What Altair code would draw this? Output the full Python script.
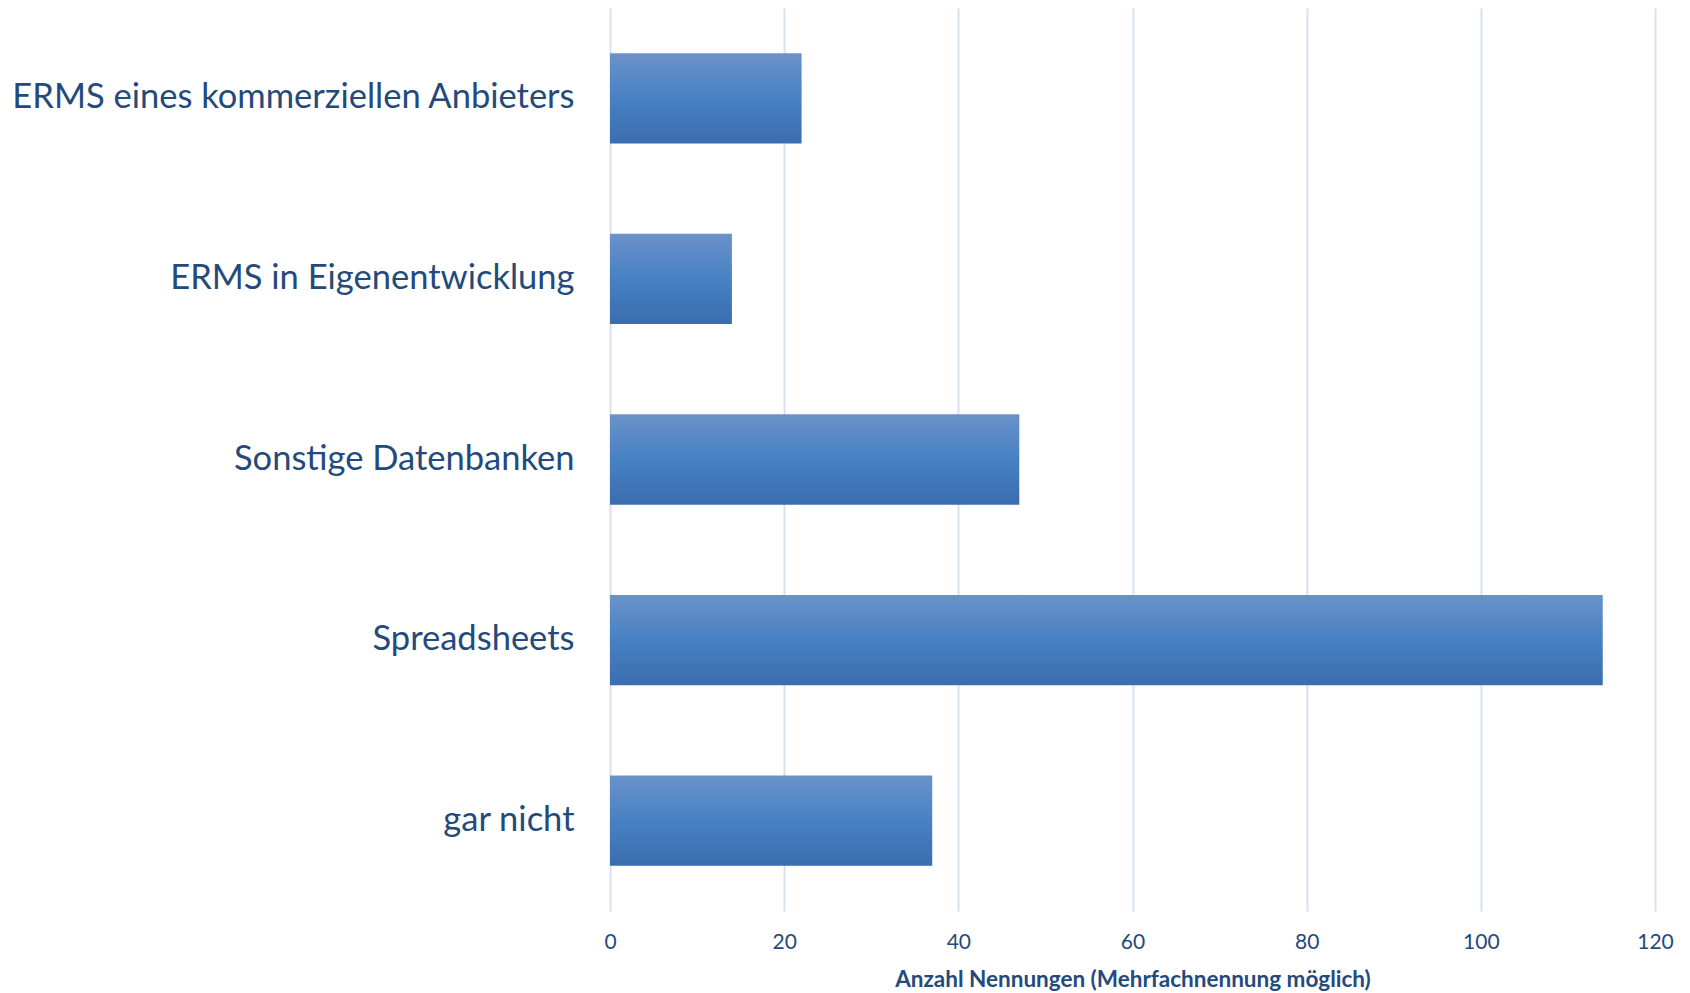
import altair as alt
import pandas as pd

categories = ["ERMS eines kommerziellen Anbieters", "ERMS in Eigenentwicklung",
              "Sonstige Datenbanken", "Spreadsheets", "gar nicht"]
values = [22, 14, 47, 114, 37]
x_ticks = [0, 20, 40, 60, 80, 100, 120]

df = pd.DataFrame({"cat": categories, "val": values})

text_color = "#244a7c"
font = "Lato"

grad = alt.Gradient(
    gradient="linear", x1=0, x2=0, y1=0, y2=1,
    stops=[alt.GradientStop(color="#6b92c9", offset=0),
           alt.GradientStop(color="#4781c4", offset=0.5),
           alt.GradientStop(color="#3a6daf", offset=1)],
)

chart = alt.Chart(df).mark_bar(color=grad).encode(
    y=alt.Y("cat:N", sort=categories, title=None,
            scale=alt.Scale(paddingInner=0.5, paddingOuter=0.25),
            axis=alt.Axis(labelFontSize=34.5, labelColor=text_color, labelFont=font,
                          labelPadding=36, ticks=False, domain=False, grid=False,
                          labelLimit=700)),
    x=alt.X("val:Q", title="Anzahl Nennungen (Mehrfachnennung möglich)",
            scale=alt.Scale(domain=[0, 120], nice=False),
            axis=alt.Axis(values=x_ticks, labelFontSize=21, labelColor=text_color,
                          labelFont=font, labelPadding=20, labelFlush=False,
                          ticks=False, domain=False,
                          grid=True, gridColor="#d6e2f2", gridWidth=2,
                          titleFont=font, titleFontSize=22.5, titleFontWeight="bold",
                          titleColor=text_color, titlePadding=16)),
).properties(
    width=1045, height=903,
    autosize=alt.AutoSizeParams(type="none"),
    padding={"left": 602, "top": 0, "right": 20, "bottom": 80},
).configure_view(stroke=None)

chart.save("out.html", embed_options={"renderer": "svg", "actions": False})
